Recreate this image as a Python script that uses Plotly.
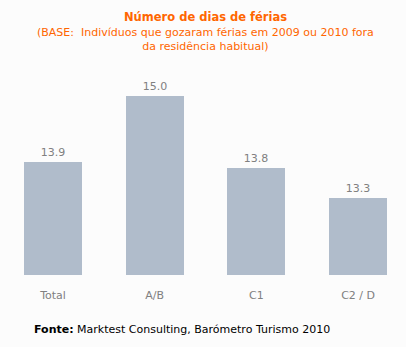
import plotly.graph_objects as go

# Average number of holiday days by social class
categories = ["Total", "A/B", "C1", "C2 / D"]
values = [13.9, 15.0, 13.8, 13.3]
value_labels = ["13.9", "15.0", "13.8", "13.3"]

FONT = "DejaVu Sans"
ORANGE = "#FF6600"
GREY = "#808080"
BAR = "#B0BCCB"
BG = "#FCFCFC"

W, H = 406, 347
MARGIN_T, MARGIN_B = 80, 72
plot_top, plot_bottom = MARGIN_T, H - MARGIN_B
plot_h = plot_bottom - plot_top


def px_to_paper_y(py):
    return (plot_bottom - py) / plot_h


def px_to_paper_x(px):
    return px / W


x_pos = list(range(len(categories)))

fig = go.Figure()
fig.add_trace(go.Bar(
    x=x_pos,
    y=values,
    width=0.57,
    marker=dict(color=BAR, line=dict(width=0)),
    text=value_labels,
    textposition="outside",
    textfont=dict(family=FONT, size=11, color=GREY),
    cliponaxis=False,
    hoverinfo="skip",
))

fig.update_layout(
    width=W,
    height=H,
    margin=dict(l=0, r=0, t=MARGIN_T, b=MARGIN_B),
    paper_bgcolor=BG,
    plot_bgcolor=BG,
    showlegend=False,
    bargap=0,
    xaxis=dict(
        range=[-0.521, 3.471],
        tickvals=x_pos,
        ticktext=categories,
        tickfont=dict(family=FONT, size=11, color=GREY),
        showgrid=False,
        zeroline=False,
        showline=False,
        ticks="",
        ticklabelstandoff=12,
    ),
    yaxis=dict(
        range=[12.02, 15.27],
        visible=False,
        showgrid=False,
        zeroline=False,
    ),
    annotations=[
        dict(
            text="<b>Número de dias de férias</b>",
            x=0.505, y=px_to_paper_y(17), xref="paper", yref="paper",
            yanchor="middle",
            showarrow=False,
            font=dict(family=FONT, size=11.5, color=ORANGE),
        ),
        dict(
            text="(BASE:  Indivíduos que gozaram férias em 2009 ou 2010 fora<br>da residência habitual)",
            x=0.505, y=px_to_paper_y(39), xref="paper", yref="paper",
            yanchor="middle",
            showarrow=False,
            align="center",
            font=dict(family=FONT, size=11, color=ORANGE),
        ),
        dict(
            text="<b>Fonte:</b> Marktest Consulting, Barómetro Turismo 2010",
            x=px_to_paper_x(32), y=px_to_paper_y(329), xref="paper", yref="paper",
            xanchor="left", yanchor="middle",
            showarrow=False,
            font=dict(family=FONT, size=11, color="#000000"),
        ),
    ],
)

fig.write_html("out.html")
